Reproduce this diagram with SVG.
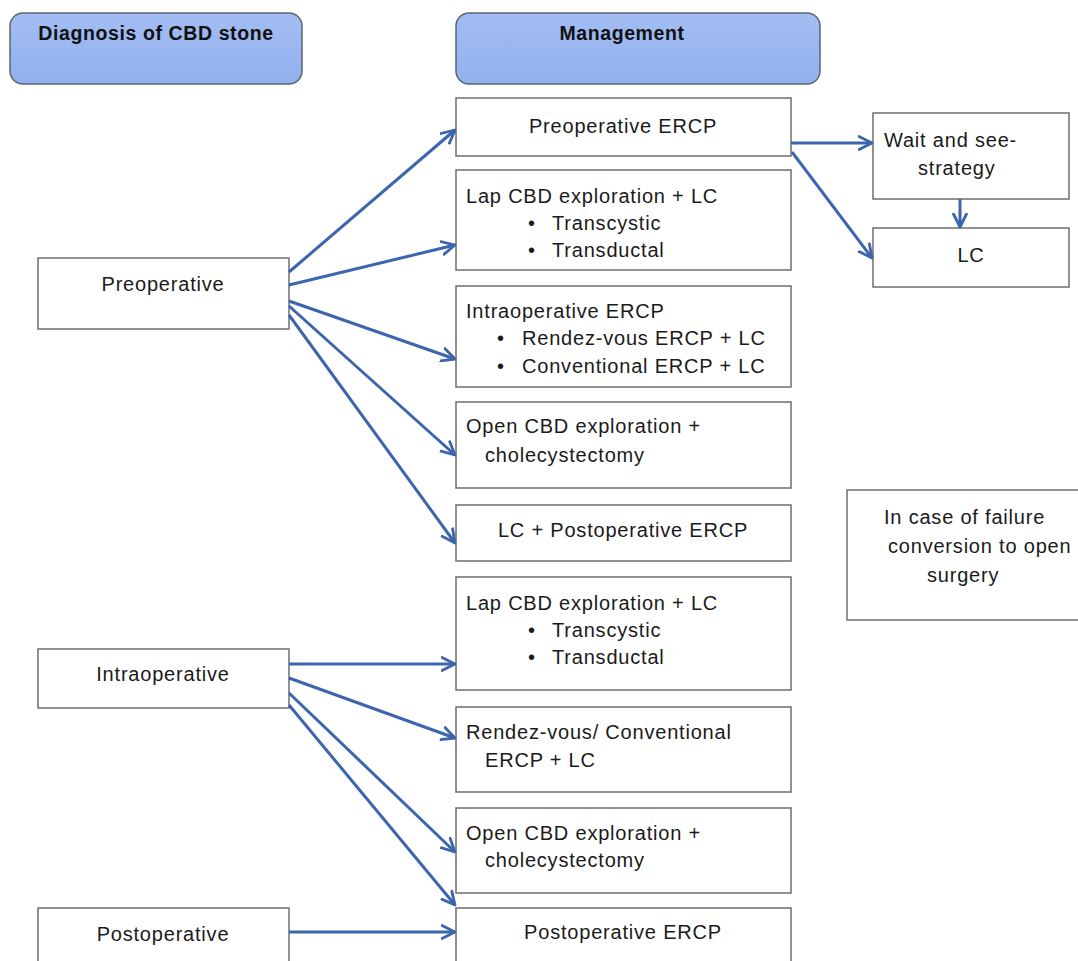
<svg xmlns="http://www.w3.org/2000/svg" width="1078" height="961" viewBox="0 0 1078 961">
<defs>
<linearGradient id="hg" x1="0" y1="0" x2="0" y2="1">
<stop offset="0" stop-color="#a3bdf3"/>
<stop offset="1" stop-color="#93b0ee"/>
</linearGradient>
<marker id="ah" viewBox="0 0 16 16" refX="14" refY="8" markerWidth="16" markerHeight="16" markerUnits="userSpaceOnUse" orient="auto">
<path d="M1,1.5 L14,8 L1,14.5" fill="none" stroke="#3d65ad" stroke-width="2.8" stroke-linecap="round" stroke-linejoin="round"/>
</marker>
</defs>
<style>
.hdr{fill:url(#hg);stroke:#5a6473;stroke-width:1.5}
.box{fill:#fff;stroke:#6e6e6e;stroke-width:1.5}
.t{font-family:"Liberation Sans",Arial,sans-serif;font-size:20px;letter-spacing:0.8px;fill:#1a1a1a}
.b{font-family:"Liberation Sans",Arial,sans-serif;font-size:19.5px;letter-spacing:0.6px;font-weight:bold;fill:#111}
.c{text-anchor:middle}
.conn path{fill:none;stroke:#3d65ad;stroke-width:3;marker-end:url(#ah)}
</style>
<rect width="1078" height="961" fill="#fff"/>
<g id="hdr-diagnosis"><rect class="hdr" x="10" y="13" width="292" height="71" rx="13"/><text class="b c" x="156" y="40">Diagnosis of CBD stone</text></g>
<g id="hdr-management"><rect class="hdr" x="456" y="13" width="364" height="71" rx="13"/><text class="b c" x="622" y="40">Management</text></g>

<g id="n-preop"><rect class="box" x="38" y="258" width="251" height="71"/><text class="t c" x="163" y="291">Preoperative</text></g>
<g id="n-intraop"><rect class="box" x="38" y="649" width="251" height="59"/><text class="t c" x="163" y="681">Intraoperative</text></g>
<g id="n-postop"><rect class="box" x="38" y="908" width="251" height="60"/><text class="t c" x="163" y="941">Postoperative</text></g>

<g id="m1"><rect class="box" x="456" y="98" width="335" height="58"/><text class="t c" x="623" y="133">Preoperative ERCP</text></g>
<g id="m2"><rect class="box" x="456" y="170" width="335" height="100"/><text class="t" x="466" y="203">Lap CBD exploration + LC</text><text class="t" x="528" y="230">•</text><text class="t" x="552" y="230">Transcystic</text><text class="t" x="528" y="257">•</text><text class="t" x="552" y="257">Transductal</text></g>
<g id="m3"><rect class="box" x="456" y="286" width="335" height="101"/><text class="t" x="466" y="318">Intraoperative ERCP</text><text class="t" x="497" y="345">•</text><text class="t" x="522" y="345">Rendez-vous ERCP + LC</text><text class="t" x="497" y="373">•</text><text class="t" x="522" y="373">Conventional ERCP + LC</text></g>
<g id="m4"><rect class="box" x="456" y="402" width="335" height="86"/><text class="t" x="466" y="433">Open CBD exploration +</text><text class="t" x="485" y="462">cholecystectomy</text></g>
<g id="m5"><rect class="box" x="456" y="505" width="335" height="56"/><text class="t c" x="623" y="537">LC + Postoperative ERCP</text></g>
<g id="m6"><rect class="box" x="456" y="577" width="335" height="113"/><text class="t" x="466" y="610">Lap CBD exploration + LC</text><text class="t" x="528" y="637">•</text><text class="t" x="552" y="637">Transcystic</text><text class="t" x="528" y="664">•</text><text class="t" x="552" y="664">Transductal</text></g>
<g id="m7"><rect class="box" x="456" y="707" width="335" height="85"/><text class="t" x="466" y="739">Rendez-vous/ Conventional</text><text class="t" x="485" y="767">ERCP + LC</text></g>
<g id="m8"><rect class="box" x="456" y="808" width="335" height="85"/><text class="t" x="466" y="840">Open CBD exploration +</text><text class="t" x="485" y="867">cholecystectomy</text></g>
<g id="m9"><rect class="box" x="456" y="908" width="335" height="60"/><text class="t c" x="623" y="939">Postoperative ERCP</text></g>

<g id="r-wait"><rect class="box" x="873" y="113" width="196" height="86"/><text class="t" x="884" y="147">Wait and see-</text><text class="t" x="918" y="175">strategy</text></g>
<g id="r-lc"><rect class="box" x="873" y="228" width="196" height="59"/><text class="t c" x="971" y="262">LC</text></g>
<g id="r-fail"><rect class="box" x="847" y="490" width="235" height="130"/><text class="t" x="884" y="524">In case of failure</text><text class="t" x="888" y="553">conversion to open</text><text class="t" x="927" y="582">surgery</text></g>

<g id="connectors" class="conn">
<path d="M289,272 L455,130"/>
<path d="M289,285 L455,245"/>
<path d="M289,301 L455,359"/>
<path d="M289,306 L455,455"/>
<path d="M289,315 L455,543"/>
<path d="M289,664 L455,664"/>
<path d="M289,678 L455,738"/>
<path d="M289,693 L455,852"/>
<path d="M289,705 L455,905"/>
<path d="M289,932 L455,932"/>
<path d="M791,143 L872,143"/>
<path d="M792,152 L872,258"/>
<path d="M960,199 L960,227"/>
</g>
</svg>
